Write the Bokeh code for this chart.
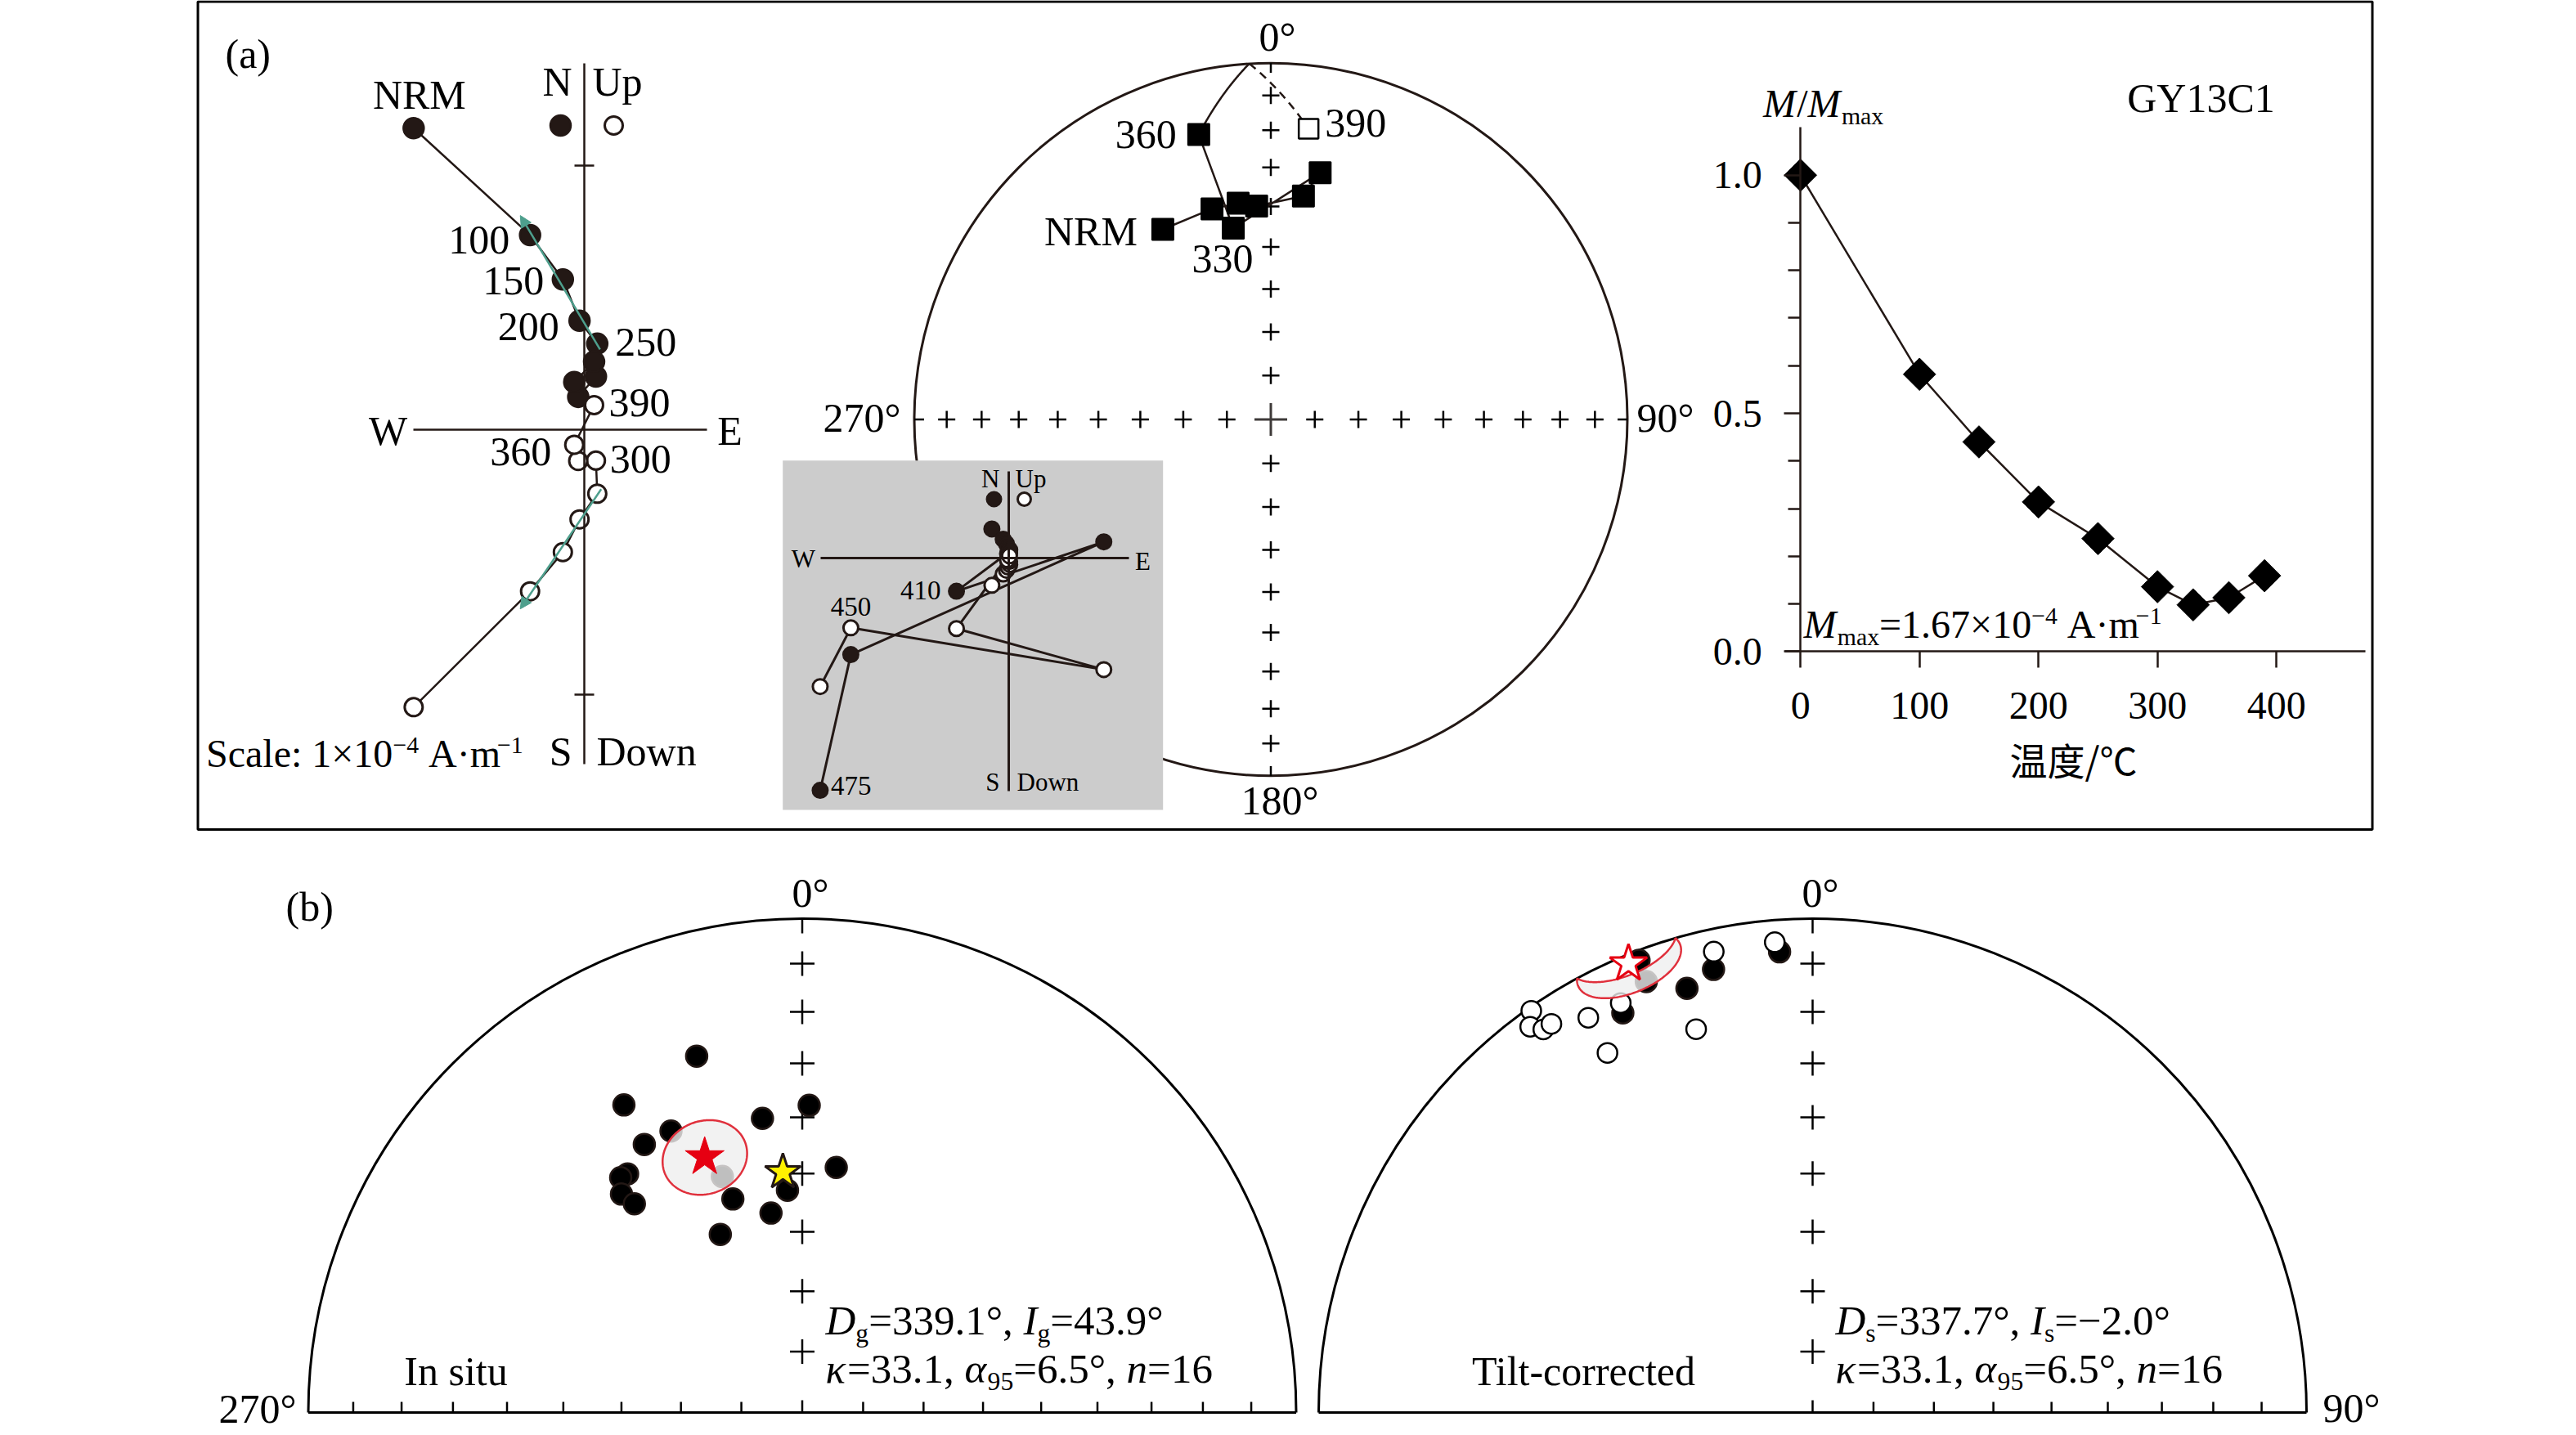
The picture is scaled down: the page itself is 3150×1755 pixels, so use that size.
import numpy as np
from bokeh.plotting import figure
from bokeh.models import Range1d, LinearAxis, FixedTicker, Arrow, NormalHead, PrintfTickFormatter
from bokeh.core.properties import value
from bokeh.embed import file_html
from bokeh.resources import INLINE

# ====================== DATA ======================
# (a) stepwise thermal demagnetization of specimen GY13C1
specimen = "GY13C1"
step_labels = ["NRM", "100", "150", "200", "250", "300", "330", "360", "390"]
step_temps = [0, 100, 150, 200, 250, 300, 330, 360, 390]
# orthogonal vector components, units of 1e-4 A/m
zij_east = [-0.645, -0.205, -0.081, -0.018, 0.049, 0.044, -0.023, -0.038, 0.037]
zij_north = [1.140, 0.736, 0.568, 0.412, 0.325, 0.201, 0.124, 0.180, 0.257]
zij_up = [-1.049, -0.611, -0.463, -0.339, -0.242, -0.117, -0.118, -0.057, 0.093]
# higher steps (shown in the grey inset only)
hot_labels = ["410", "430", "450", "475"]
hot_east = [-2.02, 3.70, -6.12, -7.31]
hot_north = [-1.28, 0.64, -3.74, -9.01]
hot_up = [-2.73, -4.32, -2.70, -4.98]
# directions of the demagnetization steps (equal-area net)
step_dec = [330.4, 344.4, 351.4, 356.2, 8.3, 11.3, 348.9, 345.8, 7.4]
step_inc = [38.6, 38.6, 38.6, 39.8, 36.8, 30.1, 44.5, 18.7, -18.9]
# intensity decay
m_ratio = [1.0, 0.582, 0.440, 0.314, 0.237, 0.136, 0.098, 0.113, 0.159]
m_max = "1.67"
fit_first, fit_last = 1, 4  # 100-250 °C component

therm_xticks = [0, 100, 200, 300, 400]
therm_yticks = [0.0, 0.5, 1.0]
therm_yminor = [0.1, 0.2, 0.3, 0.4, 0.6, 0.7, 0.8, 0.9]
net_tick_incs = [10, 20, 30, 40, 50, 60, 70, 80]

# (b) site-mean directions
geo_dec = [343.5, 329.9, 1.3, 352.3, 335.0, 329.5, 323.8, 322.3, 320.4, 321.2, 341.3, 342.0, 356.2, 351.1, 335.3, 7.9]
geo_inc = [25.7, 28.8, 37.8, 39.7, 37.2, 37.1, 39.9, 39.7, 42.1, 44.9, 48.2, 52.5, 52.8, 56.4, 57.4, 48.5]
tc_dec = [325.0, 323.8, 324.9, 326.1, 330.4, 330.3, 334.9, 343.1, 347.9, 355.4, 334.6, 339.0, 338.9, 343.5, 347.4, 355.9]
tc_inc = [-0.8, -3.6, -5.8, -5.8, -8.9, -17.3, -9.3, -20.0, -5.1, -5.0, 11.4, 2.2, 7.2, 11.4, 8.9, 7.2]
geo_mean = (339.1, 43.9)
tc_mean = (337.7, -2.0)
kappa = 33.1
alpha95 = 6.5
ref_dir = (355.4, 49.6)

# ====================== STYLE ======================
SERIF = "Liberation Serif"
CJK = "Noto Sans CJK SC"
INK = "#231815"
RED = "#e60012"
CONE = "#e0303c"
TEAL = "#4e9f8d"

W, H = 3148, 1753
X0, Y0 = 0, 0

p = figure(width=W, height=H, x_range=Range1d(X0, X0 + W), y_range=Range1d(Y0 + H, Y0),
           x_axis_type=None, y_axis_type=None, output_backend="svg", toolbar_location=None,
           min_border=0, outline_line_color=None, background_fill_color="white")

xr, yr, SC = {}, {}, {}


def frame(name, cx, cy, sx, sy=None):
    sy = sx if sy is None else sy
    xr[name] = Range1d((X0 - cx) / sx, (X0 + W - cx) / sx)
    yr[name] = Range1d((cy - (Y0 + H)) / sy, (cy - Y0) / sy)
    SC[name] = (sx, sy)


frame("Z", 714, 525, 323.5)          # main orthogonal plot
frame("I", 1232.7, 682.3, 31.5)      # inset orthogonal plot
frame("S", 1553.5, 512.5, 436)       # step stereonet
frame("T", 2201.2, 796.3, 1.455, 582.6)  # intensity decay
frame("B1", 980.5, 1727, 604)        # in situ
frame("B2", 2216, 1727, 604)         # tilt corrected
p.extra_x_ranges = xr
p.extra_y_ranges = yr


def F(n):
    return dict(x_range_name=n, y_range_name=n)


WID = {' ': .25, '(': .333, ')': .333, ',': .25, '-': .333, '.': .25, '/': .278, ':': .278, '=': .564,
       'A': .722, 'C': .667, 'D': .722, 'G': .722, 'I': .333, 'M': .86, 'N': .722, 'S': .556, 'Y': .722,
       'a': .444, 'c': .444, 'e': .444, 'g': .5, 'l': .278, 'm': .778, 'n': .5, 'x': .5, 's': .389,
       '°': .4, '×': .564, '−': .564, '·': .25, 'κ': .52, 'α': .55}


def tw(s, size):
    return sum(WID.get(c, .5) for c in s) * size


def txt(x, y, s, size=50, align="left", baseline="middle", font=SERIF, style="normal"):
    p.text(x=[x], y=[y], text=[s], text_font=value(font), text_font_size=f"{size}px",
           text_align=align, text_baseline=baseline, text_font_style=style, text_color="black")


def rich(x, y, parts, size=48, align="left"):
    """Mixed-style text; y is the vertical middle of the main-size glyphs."""
    sizes = [size * 0.62 if k in ("sub", "sup") else size for _, k in parts]
    widths = [tw(t, s) for (t, _), s in zip(parts, sizes)]
    tot = sum(widths)
    cx = x - tot / 2 if align == "center" else (x - tot if align == "right" else x)
    for (t, k), s, w in zip(parts, sizes, widths):
        dy = 0.32 * size if k == "sub" else (-0.21 * size if k == "sup" else 0)
        lead = len(t) - len(t.lstrip(" "))
        shown = t.strip(" ")
        if shown:
            txt(cx + tw(" " * lead, s), y + dy, shown, size=round(s, 1),
                style="italic" if k == "i" else "normal")
        cx += w


def dlabel(fr, x, y, s, dx, dy, size=50, align="left"):
    p.text(x=[x], y=[y], text=[s], x_offset=dx, y_offset=dy, text_font=value(SERIF),
           text_font_size=f"{size}px", text_align=align, text_baseline="middle",
           text_color="black", **F(fr))


def eq_r(inc):
    inc = np.abs(np.asarray(inc, float))
    return np.sqrt(2.0) * np.sin(np.radians(90.0 - inc) / 2.0)


def eqarea(dec, inc):
    r = eq_r(inc)
    d = np.radians(np.asarray(dec, float))
    return r * np.sin(d), r * np.cos(d)


def d2v(dec, inc):
    d, i = np.radians(dec), np.radians(inc)
    return np.array([np.cos(i) * np.cos(d), np.cos(i) * np.sin(d), np.sin(i)])


def v2d(v):
    v = np.asarray(v, float)
    n = np.linalg.norm(v, axis=0)
    return np.degrees(np.arctan2(v[1], v[0])) % 360, np.degrees(np.arcsin(v[2] / n))


def small_circle(dec, inc, a, num=241):
    m = d2v(dec, inc)
    ref = np.array([0, 0, 1.0]) if abs(m[2]) < 0.9 else np.array([1.0, 0, 0])
    u = np.cross(m, ref)
    u /= np.linalg.norm(u)
    w = np.cross(m, u)
    t = np.linspace(0, 2 * np.pi, num)
    ar = np.radians(a)
    pts = np.cos(ar) * m[:, None] + np.sin(ar) * (np.cos(t) * u[:, None] + np.sin(t) * w[:, None])
    return v2d(pts)


def great_arc(d1, i1, d2, i2, num=200):
    v1, v2 = d2v(d1, i1), d2v(d2, i2)
    om = np.arccos(np.clip(v1 @ v2, -1, 1))
    t = np.linspace(0, 1, num)
    pts = (np.sin((1 - t) * om) * v1[:, None] + np.sin(t * om) * v2[:, None]) / np.sin(om)
    return v2d(pts)


def fmt(v):
    return f"{v:.1f}".replace("-", "−")


# ====================== PANEL (a) frame ======================
p.quad(left=241.5, right=2900.5, top=1.5, bottom=1014, fill_color=None, line_color="black", line_width=3)
txt(275, 65, "(a)")

# ---------------- orthogonal vector plot ----------------
zk = F("Z")
p.line(zij_east, zij_north, line_color=INK, line_width=2.5, **zk)
p.line(zij_east, zij_up, line_color=INK, line_width=2.5, **zk)
p.scatter(zij_east, zij_north, size=25, fill_color=INK, line_color=INK, line_width=2.5, **zk)
p.scatter(zij_east, zij_up, size=22, fill_color="white", line_color=INK, line_width=3, **zk)


def fit_line(xs, ys, i0, i1):
    pts = np.c_[xs[i0:i1 + 1], ys[i0:i1 + 1]]
    c = pts.mean(axis=0)
    _, _, vt = np.linalg.svd(pts - c)
    u = vt[0]
    t = (pts - c) @ u
    if t[0] < t[-1]:
        u, t = -u, -t
    span = t.max() - t.min()
    return c + (t.min() - 0.05 * span) * u, c + (t.max() + 0.17 * span) * u


for comp in (zij_north, zij_up):
    a, b = fit_line(np.array(zij_east), np.array(comp), fit_first, fit_last)
    p.add_layout(Arrow(x_start=a[0], y_start=a[1], x_end=b[0], y_end=b[1], line_color=TEAL,
                       line_width=2.5, end=NormalHead(size=14, fill_color=TEAL, line_color=TEAL),
                       x_range_name="Z", y_range_name="Z"))

zv = LinearAxis(x_range_name="Z", y_range_name="Z", fixed_location=0, bounds=(-1.264, 1.385),
                ticker=FixedTicker(ticks=[-1, 1], minor_ticks=[]), major_tick_in=12, major_tick_out=12,
                major_label_overrides={-1: "", 1: ""}, major_label_text_font_size="1px",
                axis_line_color=INK, axis_line_width=2.5, major_tick_line_color=INK,
                major_tick_line_width=2.5, minor_tick_line_color=None)
p.add_layout(zv, "left")
zh = LinearAxis(x_range_name="Z", y_range_name="Z", fixed_location=0, bounds=(-0.646, 0.464),
                ticker=FixedTicker(ticks=[], minor_ticks=[]), major_tick_line_color=None,
                minor_tick_line_color=None, major_label_text_font_size="1px",
                axis_line_color=INK, axis_line_width=2.5)
p.add_layout(zh, "below")

for lab, i, comp, dx, dy, al in [("NRM", 0, zij_north, 7, -41, "center"), ("100", 1, zij_north, -25, 6, "right"),
                                  ("150", 2, zij_north, -23, 2, "right"), ("200", 3, zij_north, -25, 7, "right"),
                                  ("250", 4, zij_north, 22, -2, "left"), ("300", 5, zij_up, 17, -2, "left"),
                                  ("360", 7, zij_up, -28, 9, "right"), ("390", 8, zij_up, 18, -3, "left")]:
    dlabel("Z", zij_east[i], comp[i], lab, dx, dy, align=al)

txt(699, 99, "N", align="right")
txt(724, 99, "Up")
p.scatter([685], [153], size=25, fill_color=INK, line_color=INK, line_width=2.5)
p.scatter([750], [153], size=22, fill_color="white", line_color=INK, line_width=3)
txt(474, 526, "W", align="center")
txt(892, 526, "E", align="center")
txt(699, 918, "S", align="right")
txt(729, 918, "Down")
rich(251.5, 921, [("Scale: 1×10", "n"), ("−4", "sup"), (" A·m", "n"), ("−1", "sup")], 48)

# ---------------- step stereonet ----------------
sk = F("S")
ssx = SC["S"][0]
p.circle(x=[0], y=[0], radius=1, fill_color=None, line_color=INK, line_width=3, **sk)
rr = eq_r(net_tick_incs)
px_, py_ = [], []
for az in (0, 90, 180, 270):
    px_ += list(rr * np.sin(np.radians(az)))
    py_ += list(rr * np.cos(np.radians(az)))
p.scatter(px_, py_, marker="cross", size=21, line_color="black", line_width=2.5, **sk)
p.scatter([0], [0], marker="cross", size=40, line_color="#3e3a39", line_width=3, **sk)
az = np.radians([0, 90, 180, 270])
p.segment(x0=np.sin(az), y0=np.cos(az), x1=(1 - 12 / ssx) * np.sin(az), y1=(1 - 12 / ssx) * np.cos(az),
          line_color="black", line_width=2.5, **sk)

sx_, sy_ = eqarea(step_dec, step_inc)
p.line(sx_[:8], sy_[:8], line_color=INK, line_width=2.5, **sk)
gd, gi = great_arc(step_dec[7], step_inc[7], step_dec[8], step_inc[8])
gx, gy = eqarea(gd, gi)
k = int(np.argmax(gi < 0))
p.line(gx[:k + 1], gy[:k + 1], line_color=INK, line_width=2.5, **sk)
p.line(gx[k:], gy[k:], line_color=INK, line_width=2.5, line_dash="10 7", **sk)
low = np.array(step_inc) >= 0
p.scatter(sx_[low], sy_[low], marker="square", size=26, fill_color="black", line_color="black", line_width=2, **sk)
p.scatter(sx_[~low], sy_[~low], marker="square", size=24, fill_color="white", line_color="black", line_width=2.5, **sk)
dlabel("S", sx_[0], sy_[0], "NRM", -31, 2, align="right")
dlabel("S", sx_[6], sy_[6], "330", -13, 37, align="center")
dlabel("S", sx_[7], sy_[7], "360", -27, 0, align="right")
dlabel("S", sx_[8], sy_[8], "390", 20, -7, align="left")
txt(1539, 44, "0°")
txt(1101, 510, "270°", align="right")
txt(2001, 510, "90°")
txt(1517, 978, "180°")

# ---------------- inset orthogonal plot ----------------
p.quad(left=956.7, right=1421.7, top=562.7, bottom=990, fill_color="#cccccc", line_color=None)
ik = F("I")
all_e = zij_east + hot_east
all_n = zij_north + hot_north
all_u = zij_up + hot_up
p.line(all_e, all_n, line_color=INK, line_width=3, **ik)
p.line(all_e, all_u, line_color=INK, line_width=3, **ik)
p.scatter(all_e, all_n, size=19, fill_color=INK, line_color=INK, line_width=2, **ik)
p.scatter(all_e, all_u, size=18, fill_color="white", line_color=INK, line_width=3, **ik)
iv = LinearAxis(x_range_name="I", y_range_name="I", fixed_location=0, bounds=(-9.05, 3.375),
                ticker=FixedTicker(ticks=[], minor_ticks=[]), major_tick_line_color=None,
                minor_tick_line_color=None, major_label_text_font_size="1px",
                axis_line_color=INK, axis_line_width=3)
p.add_layout(iv, "left")
ih = LinearAxis(x_range_name="I", y_range_name="I", fixed_location=0, bounds=(-7.28, 4.676),
                ticker=FixedTicker(ticks=[], minor_ticks=[]), major_tick_line_color=None,
                minor_tick_line_color=None, major_label_text_font_size="1px",
                axis_line_color=INK, axis_line_width=3)
p.add_layout(ih, "below")
dlabel("I", hot_east[0], hot_north[0], hot_labels[0], -19, -1, size=33, align="right")
dlabel("I", hot_east[2], hot_up[2], hot_labels[2], 0, -26, size=33, align="center")
dlabel("I", hot_east[3], hot_north[3], hot_labels[3], 13, -6, size=33, align="left")
txt(1222, 585, "N", size=31, align="right")
txt(1241, 585, "Up", size=31)
p.scatter([1215], [610], size=18, fill_color=INK, line_color=INK, line_width=2)
p.scatter([1252], [610], size=16, fill_color="white", line_color=INK, line_width=3)
txt(982, 683, "W", size=31, align="center")
txt(1397, 686, "E", size=31, align="center")
txt(1222, 956, "S", size=31, align="right")
txt(1243, 956, "Down", size=31)

# ---------------- intensity decay ----------------
tk = F("T")
p.line(step_temps, m_ratio, line_color=INK, line_width=2.5, **tk)
p.scatter(step_temps, m_ratio, marker="square", angle=np.pi / 4, size=28, fill_color="black",
          line_color="black", **tk)
ax_kw = dict(axis_line_color=INK, axis_line_width=2.5, major_tick_line_color=INK, major_tick_line_width=2.5,
             major_tick_in=0, major_tick_out=20, major_label_text_font=SERIF, major_label_text_font_size="48px",
             major_label_text_color="black")
tx = LinearAxis(x_range_name="T", y_range_name="T", fixed_location=0, bounds=(-13, 475),
                ticker=FixedTicker(ticks=therm_xticks, minor_ticks=[]), minor_tick_line_color=None,
                major_label_standoff=30, **ax_kw)
p.add_layout(tx, "below")
ty = LinearAxis(x_range_name="T", y_range_name="T", fixed_location=0, bounds=(0, 1.1),
                ticker=FixedTicker(ticks=therm_yticks, minor_ticks=therm_yminor),
                formatter=PrintfTickFormatter(format="%.1f"), minor_tick_in=0, minor_tick_out=15,
                minor_tick_line_color=INK, minor_tick_line_width=2.5, major_label_standoff=27, **ax_kw)
p.add_layout(ty, "left")
rich(2155.5, 126, [("M", "i"), ("/", "n"), ("M", "i"), ("max", "sub")], 48)
txt(2691, 119, specimen, size=50, align="center")
rich(2205, 763, [("M", "i"), ("max", "sub"), (f"={m_max}×10", "n"), ("−4", "sup"), (" A·m", "n"), ("−1", "sup")], 48)
txt(2535, 927, "温度/℃", size=46, align="center", font=CJK)

# ====================== PANEL (b) ======================
txt(349, 1108, "(b)")


def hemisphere(fr, decs, incs, mean, left_ticks):
    kw = F(fr)
    s = SC[fr][0]
    p.arc(x=[0], y=[0], radius=1, start_angle=0, end_angle=np.pi, line_color="black", line_width=3, **kw)
    p.segment(x0=[-1], y0=[0], x1=[1], y1=[0], line_color="black", line_width=3, **kw)
    r = eq_r(net_tick_incs)
    bx = np.concatenate([r, -r]) if left_ticks else r
    p.segment(x0=bx, y0=0, x1=bx, y1=13 / s, line_color="black", line_width=2.5, **kw)
    p.segment(x0=[0, 0], y0=[0, 1], x1=[0, 0], y1=[15 / s, 1 - 18 / s], line_color="black", line_width=2.5, **kw)
    p.scatter(0 * r, r, marker="cross", size=30, line_color="black", line_width=2.5, **kw)
    x, y = eqarea(decs, incs)
    lo = np.array(incs) >= 0
    p.scatter(x[lo], y[lo], size=26, fill_color="black", line_color=INK, line_width=2.5, **kw)
    p.scatter(x[~lo], y[~lo], size=24, fill_color="white", line_color="black", line_width=2.5, **kw)
    cd, ci = small_circle(mean[0], mean[1], alpha95)
    cx, cy = eqarea(cd, ci)
    p.patch(cx, cy, fill_color="#efefef", fill_alpha=0.8, line_color=CONE, line_width=2.5, **kw)
    mx, my = eqarea([mean[0]], [mean[1]])
    if mean[1] >= 0:
        p.scatter(mx, my, marker="star", size=50, fill_color=RED, line_color=RED, **kw)
    else:
        p.scatter(mx, my, marker="star", size=48, fill_color="white", line_color=RED, line_width=3, **kw)
    return kw


kw1 = hemisphere("B1", geo_dec, geo_inc, geo_mean, True)
rx, ry = eqarea([ref_dir[0]], [ref_dir[1]])
p.scatter(rx, ry, marker="star", size=46, fill_color="#fff100", line_color=INK, line_width=3, **kw1)
hemisphere("B2", tc_dec, tc_inc, tc_mean, False)

txt(968, 1091, "0°")
txt(2203, 1091, "0°")
txt(362, 1722, "270°", align="right")
txt(2840, 1721, "90°")
txt(557, 1676, "In situ", align="center")
txt(1936, 1676, "Tilt-corrected", align="center")
n_sites = len(geo_dec)
for x0, sub, mean in ((1009, "g", geo_mean), (2244, "s", tc_mean)):
    rich(x0, 1614, [("D", "i"), (sub, "sub"), (f"={fmt(mean[0])}°, ", "n"), ("I", "i"), (sub, "sub"),
                    (f"={fmt(mean[1])}°", "n")], 51)
    rich(x0, 1673, [("κ", "i"), (f"={kappa}, ", "n"), ("α", "i"), ("95", "sub"), (f"={alpha95}°, ", "n"),
                    ("n", "i"), (f"={n_sites}", "n")], 51)

open("out.html", "w").write(file_html(p, INLINE))
